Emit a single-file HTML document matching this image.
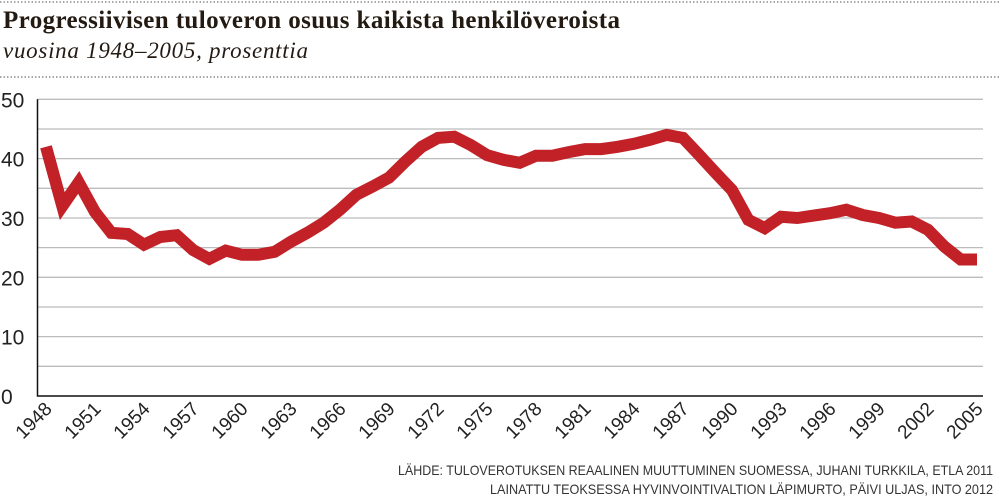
<!DOCTYPE html>
<html><head><meta charset="utf-8"><style>
body{margin:0;background:#fff;}
svg{display:block;}
</style></head><body>
<svg width="1000" height="501" xmlns="http://www.w3.org/2000/svg">
<line x1="0" y1="2" x2="1000" y2="2" stroke="#777" stroke-width="1.2" stroke-dasharray="1.5,2"/>
<text x="3" y="28" font-family="Liberation Serif, serif" font-weight="bold" font-size="25" fill="#231a12" textLength="617">Progressiivisen tuloveron osuus kaikista henkilöveroista</text>
<text x="3" y="58" font-family="Liberation Serif, serif" font-style="italic" font-size="23" fill="#231a12" textLength="305">vuosina 1948–2005, prosenttia</text>
<line x1="0" y1="77" x2="1000" y2="77" stroke="#777" stroke-width="1.2" stroke-dasharray="1.5,2"/>
<g id="grid"></g>
<g id="yticks"></g>
<g id="xticks"></g>
<g id="series"></g>
<text x="993" y="475" text-anchor="end" font-family="Liberation Sans, sans-serif" font-size="14" fill="#333" textLength="595" lengthAdjust="spacingAndGlyphs">LÄHDE: TULOVEROTUKSEN REAALINEN MUUTTUMINEN SUOMESSA, JUHANI TURKKILA, ETLA 2011</text>
<text x="993" y="494" text-anchor="end" font-family="Liberation Sans, sans-serif" font-size="14" fill="#333" textLength="503" lengthAdjust="spacingAndGlyphs">LAINATTU TEOKSESSA HYVINVOINTIVALTION LÄPIMURTO, PÄIVI ULJAS, INTO 2012</text>
</svg>
<script>
const years = [];
for (let y = 1948; y <= 2005; y++) years.push(y);
const values = [42,32,36,31,27.5,27.3,25.5,26.8,27.1,24.6,23.1,24.5,23.8,23.8,24.3,26,27.5,29.2,31.4,33.9,35.3,36.8,39.5,42,43.5,43.7,42.3,40.6,39.8,39.3,40.5,40.5,41.1,41.6,41.6,42,42.5,43.2,44,43.5,40.6,37.6,34.7,29.7,28.3,30.2,30,30.4,30.8,31.4,30.5,30,29.2,29.4,28,25.2,23,23];
const yTicks = [0,10,20,30,40,50];
const xTickYears = [1948,1951,1954,1957,1960,1963,1966,1969,1972,1975,1978,1981,1984,1987,1990,1993,1996,1999,2002,2005];

const NS = "http://www.w3.org/2000/svg";
const X0 = 46, X1 = 977, Y0 = 396, Y1 = 99.3;
function xs(yr){ return X0 + (yr - 1948) * (X1 - X0) / (2005 - 1948); }
function ys(v){ return Y0 - v * (Y0 - Y1) / 50; }

const grid = document.getElementById('grid');
for (let v = 5; v <= 50; v += 5) {
  const l = document.createElementNS(NS, 'line');
  l.setAttribute('x1', 37); l.setAttribute('x2', 983);
  l.setAttribute('y1', ys(v)); l.setAttribute('y2', ys(v));
  l.setAttribute('stroke', '#bcbcbc'); l.setAttribute('stroke-width', '1.3');
  
  
  grid.appendChild(l);
}
const ax = document.createElementNS(NS, 'path');
ax.setAttribute('d', `M37.5 ${Y1} V${Y0} H983`);
ax.setAttribute('stroke', '#111'); ax.setAttribute('stroke-width', '1.5'); ax.setAttribute('fill', 'none');


grid.appendChild(ax);

const yt = document.getElementById('yticks');
yTicks.forEach(v => {
  const t = document.createElementNS(NS, 'text');
  t.setAttribute('x', 1); t.setAttribute('y', ys(v) + 8);
  t.setAttribute('font-family', 'Liberation Sans, sans-serif');
  t.setAttribute('font-size', '21'); t.setAttribute('fill', '#222');
  
  
  t.textContent = v;
  yt.appendChild(t);
});

const xt = document.getElementById('xticks');
xTickYears.forEach(yr => {
  const x = xs(yr) + 7, y = 410;
  const t = document.createElementNS(NS, 'text');
  t.setAttribute('x', x); t.setAttribute('y', y);
  t.setAttribute('text-anchor', 'end');
  t.setAttribute('transform', `rotate(-45 ${x} ${y})`);
  t.setAttribute('font-family', 'Liberation Sans, sans-serif');
  t.setAttribute('font-size', '19'); t.setAttribute('fill', '#222');
  
  
  t.textContent = yr;
  xt.appendChild(t);
});

const p = document.createElementNS(NS, 'polyline');
p.setAttribute('points', values.map((v, i) => xs(years[i]).toFixed(1) + ',' + ys(v).toFixed(1)).join(' '));
p.setAttribute('fill', 'none'); p.setAttribute('stroke', '#c12127');
p.setAttribute('stroke-width', '12'); p.setAttribute('stroke-linejoin', 'miter');
p.setAttribute('stroke-miterlimit', '3');


document.getElementById('series').appendChild(p);
</script>
</body></html>
